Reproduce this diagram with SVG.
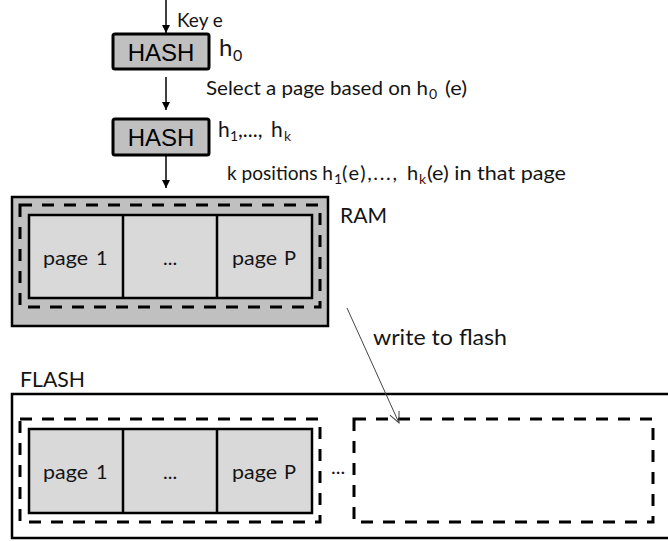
<svg xmlns="http://www.w3.org/2000/svg" width="668" height="541" viewBox="0 0 668 541">
  <style>
    .lbl { font-family: Lato, "Open Sans", sans-serif; font-size: 21px; fill: #141414; }
    .ln { font-family: Lato, "Open Sans", sans-serif; font-size: 20px; fill: #141414; }
    .pg { font-family: Lato, "Open Sans", sans-serif; font-size: 20px; fill: #141414; }
    .hash { font-family: "Liberation Sans", Arial, sans-serif; font-size: 24px; fill: #000; text-anchor: middle; }
    .sub { font-family: Lato, "Open Sans", sans-serif; font-size: 14px; fill: #141414; }
    .subk { font-family: Lato, "Open Sans", sans-serif; font-size: 14px; fill: #4a1212; }
    .hashbox { fill: #c0c0c0; stroke: #000; stroke-width: 3; }
    .mem { fill: #c0c0c0; stroke: #000; stroke-width: 2.5; }
    .pages { fill: #d9d9d9; stroke: #000; stroke-width: 2.5; }
    .div { stroke: #000; stroke-width: 2.5; }
    .dash { fill: none; stroke: #000; stroke-width: 3; stroke-dasharray: 12 10; }
    .flow { stroke: #000; stroke-width: 1.5; fill: none; }
    .thin { stroke: #444; stroke-width: 1; fill: none; }
  </style>
  <defs>
    <marker id="tri" viewBox="0 0 10 10" refX="10" refY="5" markerWidth="8" markerHeight="8" markerUnits="userSpaceOnUse" orient="auto">
      <path d="M0,0 L10,5 L0,10 Z" fill="#000"/>
    </marker>
    <marker id="open" viewBox="0 0 12 12" refX="11" refY="6" markerWidth="12" markerHeight="12" markerUnits="userSpaceOnUse" orient="auto">
      <path d="M0,1 L11,6 L0,11" fill="none" stroke="#444" stroke-width="1"/>
    </marker>
  </defs>

  <!-- first hash stage -->
  <g id="hash0">
    <rect class="hashbox" x="113" y="34" width="96" height="35" rx="2"/>
    <text class="hash" x="161" y="61">HASH</text>
  </g>

  <!-- second hash stage -->
  <g id="hash1">
    <rect class="hashbox" x="113" y="119" width="96" height="36" rx="2"/>
    <text class="hash" x="161" y="146">HASH</text>
  </g>

  <!-- labels along the hash chain -->
  <g id="labels">
    <text class="lbl" x="177" y="27" style="font-size:19px">Key e</text>

    <text class="lbl" x="219" y="56" style="font-size:24px">h</text>
    <text class="sub" x="233" y="61" style="font-size:16px">0</text>

    <text class="ln" x="206" y="95" textLength="222" lengthAdjust="spacingAndGlyphs">Select a page based on h</text>
    <text class="sub" x="429" y="99">0</text>
    <text class="ln" x="445" y="95" textLength="22" lengthAdjust="spacingAndGlyphs">(e)</text>

    <text class="lbl" x="218" y="137">h</text>
    <text class="sub" x="230" y="141">1</text>
    <text class="lbl" x="238" y="137">,...,</text>
    <text class="lbl" x="271" y="137">h</text>
    <text class="subk" x="284" y="141">k</text>

    <text class="ln" x="227" y="180" style="font-size:18.8px" textLength="106" lengthAdjust="spacingAndGlyphs">k positions h</text>
    <text class="sub" x="334" y="184">1</text>
    <text class="ln" x="342" y="180" textLength="55" lengthAdjust="spacing">(e),...,</text>
    <text class="ln" x="407" y="180">h</text>
    <text class="subk" x="419" y="184">k</text>
    <text class="ln" x="427" y="180" textLength="139" lengthAdjust="spacingAndGlyphs">(e) in that page</text>

    <text class="lbl" x="373" y="345" style="font-size:22px" textLength="134" lengthAdjust="spacingAndGlyphs">write to flash</text>
  </g>

  <!-- RAM buffer -->
  <g id="ram">
    <rect class="mem" x="12" y="197" width="316" height="129"/>
    <rect class="dash" x="20" y="205" width="300" height="102"/>
    <rect class="pages" x="29" y="215" width="283" height="83"/>
    <line class="div" x1="123" y1="215" x2="123" y2="298"/>
    <line class="div" x1="217" y1="215" x2="217" y2="298"/>
    <text class="pg" x="43" y="265" textLength="45" lengthAdjust="spacingAndGlyphs">page</text>
    <text class="pg" x="96" y="265">1</text>
    <text class="pg" x="163" y="265">...</text>
    <text class="pg" x="232" y="265" textLength="45" lengthAdjust="spacingAndGlyphs">page</text>
    <text class="pg" x="284" y="265">P</text>
    <text class="lbl" x="340" y="223" textLength="47" lengthAdjust="spacingAndGlyphs">RAM</text>
  </g>

  <!-- flash storage -->
  <g id="flash">
    <text class="lbl" x="20" y="387" textLength="65" lengthAdjust="spacingAndGlyphs">FLASH</text>
    <rect fill="none" stroke="#000" stroke-width="2.5" x="12" y="394" width="680" height="144"/>
    <rect class="dash" x="20" y="419" width="300" height="103"/>
    <rect class="pages" x="29" y="429" width="283" height="84"/>
    <line class="div" x1="123" y1="429" x2="123" y2="513"/>
    <line class="div" x1="217" y1="429" x2="217" y2="513"/>
    <text class="pg" x="43" y="479" textLength="45" lengthAdjust="spacingAndGlyphs">page</text>
    <text class="pg" x="96" y="479">1</text>
    <text class="pg" x="163" y="479">...</text>
    <text class="pg" x="232" y="479" textLength="45" lengthAdjust="spacingAndGlyphs">page</text>
    <text class="pg" x="284" y="479">P</text>
    <text class="pg" x="331" y="474">...</text>
    <rect class="dash" x="354" y="419" width="299" height="103"/>
  </g>

  <!-- connectors -->
  <g id="connectors">
    <line class="flow" x1="166" y1="0" x2="166" y2="33" marker-end="url(#tri)"/>
    <line class="flow" x1="166" y1="77" x2="166" y2="110" marker-end="url(#tri)"/>
    <line class="flow" x1="166" y1="155" x2="166" y2="188" marker-end="url(#tri)"/>
    <line class="thin" x1="347" y1="308" x2="399" y2="423" marker-end="url(#open)"/>
  </g>
</svg>
